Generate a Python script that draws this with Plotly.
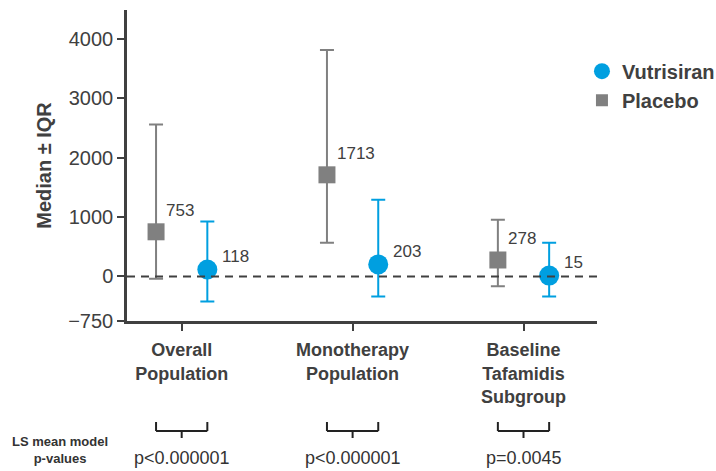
import plotly.graph_objects as go

# ---- data ----
categories = ["Overall<br>Population", "Monotherapy<br>Population", "Baseline<br>Tafamidis<br>Subgroup"]
p_values = ["p<0.000001", "p<0.000001", "p=0.0045"]

placebo_median = [753, 1713, 278]
placebo_q1 = [-40, 568, -163]
placebo_q3 = [2560, 3814, 957]

vutrisiran_median = [118, 203, 15]
vutrisiran_q1 = [-422, -338, -338]
vutrisiran_q3 = [928, 1294, 568]

y_tickvals = [-750, 0, 1000, 2000, 3000, 4000]
y_ticktext = ["\u2212750", "0", "1000", "2000", "3000", "4000"]

# ---- style ----
FONT = "Arial, Liberation Sans, sans-serif"
GRAY = "#808080"
BLUE = "#009FE0"
TXT = "#404040"
OFF = 0.15

idx = list(range(len(categories)))
x_pl = [i - OFF for i in idx]
x_vu = [i + OFF for i in idx]

fig = go.Figure()

fig.add_trace(go.Scatter(
    x=x_pl, y=placebo_median, mode="markers", showlegend=False,
    marker=dict(symbol="square", size=17, color=GRAY),
    error_y=dict(type="data", symmetric=False,
                 array=[q3 - m for q3, m in zip(placebo_q3, placebo_median)],
                 arrayminus=[m - q1 for q1, m in zip(placebo_q1, placebo_median)],
                 color=GRAY, thickness=2, width=7),
))
fig.add_trace(go.Scatter(
    x=x_vu, y=vutrisiran_median, mode="markers", showlegend=False,
    marker=dict(symbol="circle", size=20, color=BLUE),
    error_y=dict(type="data", symmetric=False,
                 array=[q3 - m for q3, m in zip(vutrisiran_q3, vutrisiran_median)],
                 arrayminus=[m - q1 for q1, m in zip(vutrisiran_q1, vutrisiran_median)],
                 color=BLUE, thickness=2, width=7),
))

# legend-only traces
fig.add_trace(go.Scatter(x=[None], y=[None], mode="markers", name="<b>Vutrisiran</b>",
                         marker=dict(symbol="circle", size=16, color=BLUE)))
fig.add_trace(go.Scatter(x=[None], y=[None], mode="markers", name="<b>Placebo</b>",
                         marker=dict(symbol="square", size=12, color=GRAY)))

annotations = []
for x, v in zip(x_pl, placebo_median):
    annotations.append(dict(x=x, y=v, xref="x", yref="y", text=str(v), showarrow=False,
                            xanchor="left", yanchor="middle", xshift=8, yshift=21,
                            font=dict(size=17, color=TXT, family=FONT)))
for x, v in zip(x_vu, vutrisiran_median):
    annotations.append(dict(x=x, y=v, xref="x", yref="y", text=str(v), showarrow=False,
                            xanchor="left", yanchor="middle", xshift=13, yshift=13,
                            font=dict(size=17, color=TXT, family=FONT)))
for i, p in zip(idx, p_values):
    annotations.append(dict(x=i, y=-0.4405, xref="x", yref="paper", text=p, showarrow=False,
                            xanchor="center", yanchor="middle",
                            font=dict(size=18, color="#333333", family=FONT)))
annotations.append(dict(x=-0.1426, y=-0.415, xref="paper", yref="paper",
                        text="<b>LS mean model<br>p-values</b>", showarrow=False,
                        xanchor="center", yanchor="middle", align="center",
                        font=dict(size=13, color="#333333", family=FONT)))

shapes = [dict(type="line", xref="paper", yref="y", x0=0, x1=1, y0=0, y1=0,
               line=dict(color="#404040", width=2, dash="8px,6px"))]
for a, b in zip(x_pl, x_vu):
    shapes.append(dict(type="line", xref="x", yref="paper", x0=a, x1=a, y0=-0.3248, y1=-0.3537,
                       line=dict(color="#222222", width=2)))
    shapes.append(dict(type="line", xref="x", yref="paper", x0=b, x1=b, y0=-0.3248, y1=-0.3537,
                       line=dict(color="#222222", width=2)))
    shapes.append(dict(type="line", xref="x", yref="paper", x0=a, x1=b, y0=-0.3537, y1=-0.3537,
                       line=dict(color="#222222", width=2)))
    m = (a + b) / 2
    shapes.append(dict(type="line", xref="x", yref="paper", x0=m, x1=m, y0=-0.3537, y1=-0.3762,
                       line=dict(color="#222222", width=2)))

fig.update_layout(
    width=716, height=471,
    margin=dict(l=127, r=119, t=10, b=150, autoexpand=False),
    paper_bgcolor="white", plot_bgcolor="white",
    font=dict(family=FONT, color=TXT),
    showlegend=True,
    legend=dict(x=0.968, y=0.866, xanchor="left", yanchor="top",
                font=dict(size=20, color=TXT, family=FONT), itemsizing="trace",
                bgcolor="rgba(0,0,0,0)", tracegroupgap=0),
    annotations=annotations,
    shapes=shapes,
    xaxis=dict(range=[-0.32, 2.43], tickvals=idx,
               ticktext=["<b>" + c + "</b>" for c in categories],
               tickfont=dict(size=18, color=TXT, family=FONT),
               showgrid=False, zeroline=False, showline=True, linecolor="#404040", linewidth=2.5,
               ticks="outside", ticklen=7, tickwidth=2, tickcolor="#404040",
               ticklabelstandoff=4),
    yaxis=dict(range=[-750, 4490], tickvals=y_tickvals, ticktext=y_ticktext,
               tickfont=dict(size=20, color=TXT, family=FONT),
               showgrid=False, zeroline=False, showline=True, linecolor="#404040", linewidth=2.5,
               ticks="outside", ticklen=7, tickwidth=2, tickcolor="#404040",
               title=dict(text="<b>Median ± IQR</b>", font=dict(size=20, color=TXT, family=FONT),
                          standoff=12)),
)

fig.write_html("out.html", config={"displayModeBar": False},
               post_script="document.body.style.margin='0';document.body.style.overflow='hidden';")
